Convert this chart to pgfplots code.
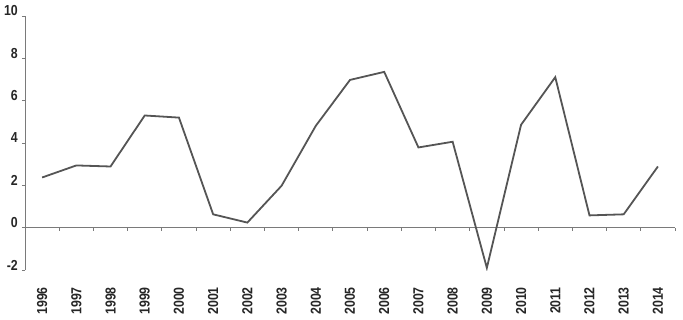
\documentclass[border=0pt]{standalone}
\usepackage{pgfplots}
\pgfplotsset{compat=1.18}
\usepackage{fontspec}
\setmainfont{Liberation Sans}[FakeStretch=0.85]
\definecolor{axisgray}{HTML}{7A7A7A}
\definecolor{linegray}{HTML}{555555}
\begin{document}
\begin{tikzpicture}[x=1pt,y=1pt]
\useasboundingbox (0,0) rectangle (683,319);
\pgfplotsset{
  base/.style={
    scale only axis, width=650pt, height=254pt,
    xmin=-0.5, xmax=18.5, ymin=-2, ymax=10,
    at={(25pt,49pt)}, anchor=south west,
  }
}
% axis with lines and ticks
\begin{axis}[base,
  axis y line=left, axis x line=middle,
  x axis line style={-, axisgray, line width=1pt},
  y axis line style={-, axisgray, line width=1pt},
  xtick={-0.5,0.5,...,18.5}, xticklabels={},
  ytick={-2,0,2,4,6,8,10},
  yticklabels={-2,0,2,4,6,8,10},
  tick style={axisgray, line width=0.8pt},
  tick align=outside, major tick length=3pt,
  yticklabel style={font=\fontsize{14.5}{14.5}\selectfont\bfseries, text=black!85, inner sep=0pt, anchor=east, yshift=5pt, xshift=-4pt},
  ]
\addplot[linegray, line width=1.8pt] coordinates {
(0,2.37) (1,2.94) (2,2.89) (3,5.30) (4,5.20) (5,0.63) (6,0.24) (7,1.98) (8,4.81)
(9,6.98) (10,7.36) (11,3.79) (12,4.06) (13,-1.90) (14,4.86) (15,7.11) (16,0.58) (17,0.63) (18,2.89)
};
\end{axis}
% axis carrying the year labels at the bottom
\begin{axis}[base,
  axis line style={draw=none},
  ytick=\empty,
  xtick={0,...,18},
  xticklabels={1996,1997,1998,1999,2000,2001,2002,2003,2004,2005,2006,2007,2008,2009,2010,2011,2012,2013,2014},
  major tick length=0pt,
  xticklabel style={rotate=90, anchor=east, font=\fontsize{14.5}{14.5}\selectfont\bfseries, text=black!85, inner sep=0pt, xshift=-2pt},
  xticklabel shift=15pt,
  ]
\end{axis}
\end{tikzpicture}
\end{document}
